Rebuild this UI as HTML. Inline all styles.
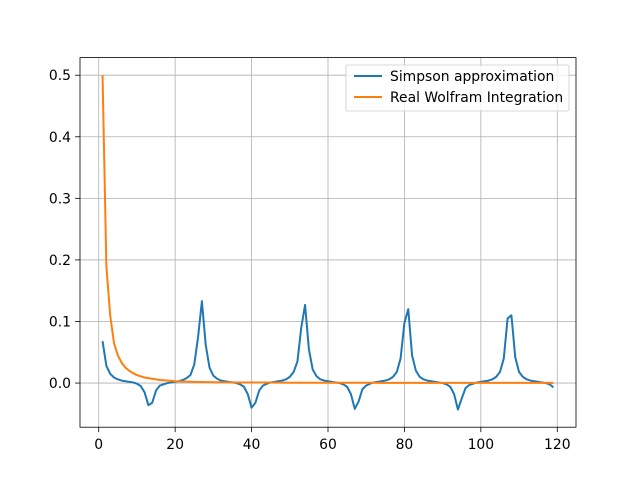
<!DOCTYPE html>
<html><head><meta charset="utf-8"><style>
body{margin:0;background:#fff;}
svg{font-family:"DejaVu Sans","Liberation Sans",sans-serif;}
</style></head><body>
<svg id="chart" width="640" height="480" xmlns="http://www.w3.org/2000/svg"></svg>
<script>
const simpsonValues=[0.068,0.028,0.015,0.009,0.006,0.004,0.003,0.002,0.001,-0.001,-0.005,-0.015,-0.036,-0.032,-0.012,-0.004,-0.002,0,0.001,0.002,0.003,0.005,0.008,0.013,0.03,0.075,0.133,0.062,0.025,0.012,0.007,0.004,0.003,0.002,0.001,0,-0.002,-0.006,-0.018,-0.04,-0.032,-0.012,-0.004,-0.001,0.001,0.002,0.003,0.004,0.006,0.01,0.018,0.035,0.09,0.127,0.055,0.022,0.011,0.006,0.004,0.003,0.002,0.001,0,-0.002,-0.006,-0.018,-0.042,-0.03,-0.01,-0.004,-0.001,0.001,0.002,0.003,0.004,0.006,0.01,0.018,0.04,0.098,0.12,0.045,0.02,0.01,0.006,0.004,0.003,0.002,0.001,0,-0.002,-0.006,-0.018,-0.043,-0.025,-0.008,-0.003,-0.001,0.001,0.002,0.003,0.004,0.006,0.01,0.018,0.04,0.105,0.11,0.042,0.018,0.01,0.006,0.004,0.003,0.002,0.001,0,-0.002,-0.007];
const wolframValues=[0.5,0.19,0.11,0.065,0.045,0.033,0.025,0.02,0.016,0.013,0.011,0.009,0.008,0.007,0.006,0.005,0.0045,0.004,0.0035,0.003,0.0028,0.0025,0.0023,0.0021,0.002,0.0018,0.0017,0.0016,0.0015,0.0014,0.0013,0.0012,0.0012,0.0011,0.0011,0.001,0.001,0.001,0.0009,0.0009,0.0009,0.0008,0.0008,0.0008,0.0008,0.0007,0.0007,0.0007,0.0007,0.0006,0.0006,0.0006,0.0006,0.0006,0.0006,0.0005,0.0005,0.0005,0.0005,0.0005,0.0005,0.0005,0.0004,0.0004,0.0004,0.0004,0.0004,0.0004,0.0004,0.0004,0.0004,0.0004,0.0003,0.0003,0.0003,0.0003,0.0003,0.0003,0.0003,0.0003,0.0003,0.0003,0.0003,0.0003,0.0003,0.0003,0.0003,0.0003,0.0003,0.0002,0.0002,0.0002,0.0002,0.0002,0.0002,0.0002,0.0002,0.0002,0.0002,0.0002,0.0002,0.0002,0.0002,0.0002,0.0002,0.0002,0.0002,0.0002,0.0002,0.0002,0.0002,0.0002,0.0002,0.0002,0.0002,0.0002,0.0002,0.0002,0.0002];
const xTicks=[0,20,40,60,80,100,120];
const yTicks=[0.0,0.1,0.2,0.3,0.4,0.5];
const yTickLabels=["0.0","0.1","0.2","0.3","0.4","0.5"];
const seriesNames=["Simpson approximation","Real Wolfram Integration"];

const L=80,R=576,T=57.6,B=427.2;
const xMin=-4.9,xMax=124.9,yMin=-0.0717,yMax=0.5286;
const sx=v=>L+(v-xMin)/(xMax-xMin)*(R-L);
const sy=v=>B-(v-yMin)/(yMax-yMin)*(B-T);
const svg=document.getElementById('chart');
const NS='http://www.w3.org/2000/svg';
function mk(tag,attrs,parent){const e=document.createElementNS(NS,tag);for(const k in attrs)e.setAttribute(k,attrs[k]);(parent||svg).appendChild(e);return e;}

xTicks.forEach(t=>{const x=sx(t);
 const g=mk('line',{x1:x,x2:x,y1:T,y2:B,stroke:'#b0b0b0','stroke-width':0.8});
 
 
 mk('line',{x1:x,x2:x,y1:B,y2:B+4.9,stroke:'#000','stroke-width':0.8});
 const tx=mk('text',{x:x,y:B+22,'font-size':13.9,'text-anchor':'middle',fill:'#000'});tx.textContent=t;
 
 
});
yTicks.forEach((t,i)=>{const y=sy(t);
 const g=mk('line',{x1:L,x2:R,y1:y,y2:y,stroke:'#b0b0b0','stroke-width':0.8});
 
 
 mk('line',{x1:L-4.9,x2:L,y1:y,y2:y,stroke:'#000','stroke-width':0.8});
 const tx=mk('text',{x:L-9,y:y+5,'font-size':13.9,'text-anchor':'end',fill:'#000'});tx.textContent=yTickLabels[i];
 
 
});
function line(vals,color,name){
 const d=vals.map((v,i)=>(i?'L':'M')+sx(i+1).toFixed(2)+','+sy(v).toFixed(2)).join('');
 const p=mk('path',{d:d,fill:'none',stroke:color,'stroke-width':2,'stroke-linejoin':'round'});
 
 
}
line(simpsonValues,'#1f77b4','simpson-line');
line(wolframValues,'#ff7f0e','wolfram-line');
const fr=mk('rect',{x:L,y:T,width:R-L,height:B-T,fill:'none',stroke:'#000','stroke-width':0.8});



const lg=mk('g',{});


mk('rect',{x:346,y:65,width:223,height:46,rx:2,fill:'#fff','fill-opacity':0.8,stroke:'#ccc','stroke-width':0.8},lg);
const cols=['#1f77b4','#ff7f0e'];
seriesNames.forEach((n,i)=>{const y=76+i*21;
 mk('line',{x1:354,x2:382,y1:y,y2:y,stroke:cols[i],'stroke-width':2},lg);
 const tx=mk('text',{x:390,y:y+5,'font-size':13.9,fill:'#000'},lg);tx.textContent=n;
 
 
});
</script>
</body></html>
